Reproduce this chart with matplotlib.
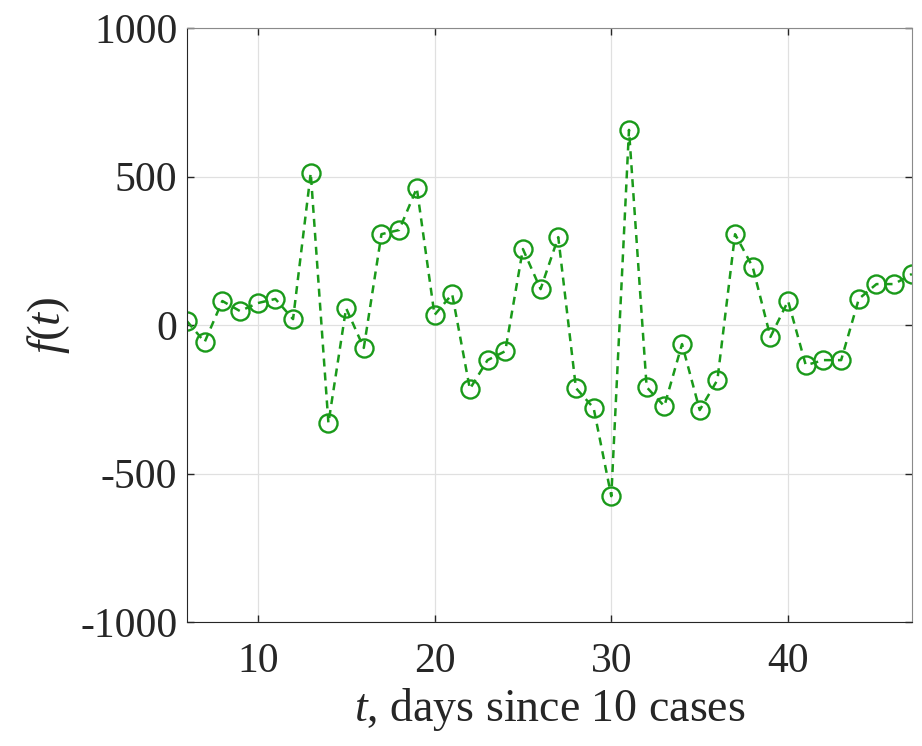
import matplotlib.pyplot as plt

# days since 10 cases
days = list(range(6, 48))
# f(t) values
f_values = [13, -57, 81, 47, 74, 88, 20, 512, -330, 57,
            -77, 306, 320, 461, 34, 104, -215, -118, -88, 256,
            121, 296, -212, -279, -576, 657, -209, -273, -64, -286,
            -185, 306, 195, -40, 81, -135, -118, -118, 88, 138,
            138, 172]

x_ticks = [10, 20, 30, 40]
y_ticks = [-1000, -500, 0, 500, 1000]
y_tick_labels = ["-1000", "-500", "0", "500", "1000"]


def plot_series(save_path: str) -> None:
    plt.rcParams["font.family"] = ["Liberation Serif", "DejaVu Serif"]
    plt.rcParams["mathtext.fontset"] = "custom"
    plt.rcParams["mathtext.it"] = "Liberation Serif:italic"
    plt.rcParams["mathtext.rm"] = "Liberation Serif"

    fig = plt.figure(figsize=(9.22, 7.46), dpi=100)
    ax = fig.add_axes([0.2028, 0.166, 0.7862, 0.7965])

    ax.plot(days, f_values, linestyle="--", color="#1a9a1a", linewidth=1.8,
            marker="o", markersize=13, markerfacecolor="none",
            markeredgewidth=1.7, dashes=(3.2, 2.4))

    ax.set_xlim(6, 47)
    ax.set_ylim(-1000, 1000)
    ax.set_xticks(x_ticks)
    ax.set_yticks(y_ticks)
    ax.set_yticklabels(y_tick_labels)
    ax.tick_params(direction="in", length=5, width=1, labelsize=30,
                   top=True, right=True, colors="#262626")
    ax.tick_params(axis="y", pad=7)
    ax.tick_params(axis="x", pad=15)
    ax.grid(True, color="#e0e0e0", linewidth=0.9)
    ax.set_axisbelow(True)
    for side in ["left", "bottom"]:
        ax.spines[side].set_color("#262626")
    for side in ["top", "right"]:
        ax.spines[side].set_color("#8a8a8a")

    ax.set_xlabel(r"$t$, days since 10 cases", fontsize=33, color="#262626", labelpad=3)
    ax.set_ylabel(r"$f(t)$", fontsize=34, color="#262626", labelpad=6)

    fig.savefig(save_path, dpi=100)
    plt.close(fig)


if __name__ == "__main__":
    plot_series("out.png")
